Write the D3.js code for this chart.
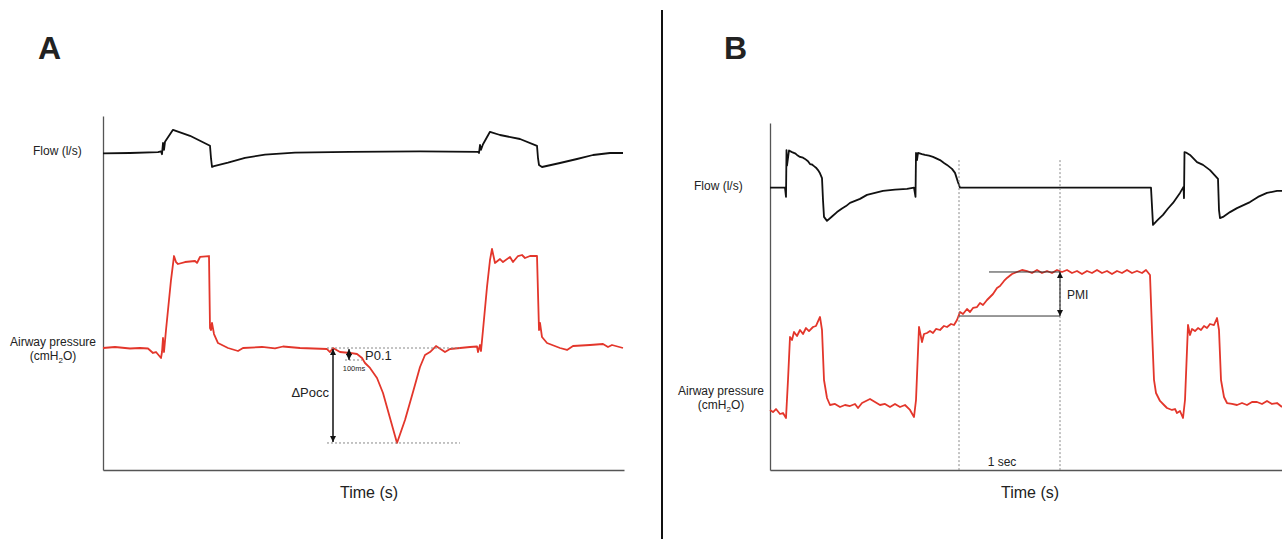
<!DOCTYPE html>
<html lang="en">
<head>
    <meta charset="UTF-8">
    <title>Occlusion manoeuvres</title>
    <style>
        body {
            margin: 0;
            padding: 0;
            background: #fff;
            font-family: "Liberation Sans", Arial, sans-serif;
        }
        svg text { fill: #222; }
        .trace { fill: none; stroke-width: 1.8; stroke-linejoin: round; }
        .axis path { stroke: #555; stroke-width: 1.3; }
        .guide { stroke: #888; stroke-width: 1; stroke-dasharray: 2,2; fill: none; }
    </style>
</head>
<body>
<svg id="chart" width="1282" height="539"></svg>
<script src="https://d3js.org/d3.v7.min.js"></script>
<script>
    // panel A: time (s), flow (l/s)
    const flowA = [
        [0, -0.01], [0.162, 0], [0.33, 0.02], [0.348, 0.04], [0.354, -0.03], [0.36, 0.25],
        [0.366, 0.08], [0.372, 0.28], [0.42, 0.58], [0.522, 0.43], [0.642, 0.18],
        [0.648, -0.13], [0.654, -0.35], [0.666, -0.33], [0.75, -0.24], [0.852, -0.12],
        [0.972, -0.04], [1.152, 0.01], [1.482, 0.03], [1.902, 0.04], [2.25, 0.03],
        [2.256, 0.0], [2.262, 0.2], [2.268, 0.08], [2.28, 0.22], [2.322, 0.53],
        [2.382, 0.45], [2.502, 0.35], [2.604, 0.18], [2.61, -0.13], [2.616, -0.3],
        [2.634, -0.35], [2.742, -0.25], [2.844, -0.15], [2.94, -0.05], [3.042, 0], [3.12, 0]
    ];

    // panel A: time (s), airway pressure (cmH2O)
    const pressureA = [
        [0, 5.0], [0.072, 5.17], [0.162, 4.92], [0.222, 5.0], [0.27, 4.92], [0.3, 4.17],
        [0.318, 4.33], [0.348, 3.33], [0.354, 4.33], [0.36, 6.67], [0.366, 4.33],
        [0.378, 8.0], [0.39, 11.33], [0.408, 16.33], [0.426, 20.33], [0.438, 19.33],
        [0.45, 19.0], [0.492, 19.33], [0.552, 19.5], [0.564, 19.17], [0.582, 20.17],
        [0.636, 20.33], [0.642, 8.33], [0.648, 8.0], [0.654, 9.17], [0.666, 7.33],
        [0.69, 5.83], [0.75, 5.0], [0.81, 4.5], [0.84, 5.0], [0.954, 5.17], [1.032, 4.92],
        [1.08, 5.25], [1.182, 5.0], [1.344, 4.83], [1.362, 4.33], [1.38, 5.0], [1.422, 4.33],
        [1.482, 4.17], [1.524, 4.0], [1.554, 3.33], [1.572, 2.5], [1.602, 1.67], [1.644, 0.0],
        [1.68, -2.5], [1.722, -6.67], [1.764, -10.83], [1.812, -7.0], [1.86, -2.33],
        [1.902, 1.83], [1.932, 3.83], [1.962, 4.33], [1.998, 5.33], [2.034, 4.67],
        [2.052, 4.33], [2.082, 4.83], [2.142, 5.0], [2.202, 5.17], [2.244, 5.25],
        [2.25, 4.33], [2.262, 5.5], [2.268, 4.5], [2.28, 8.0], [2.304, 15.17], [2.322, 19.67],
        [2.334, 21.5], [2.352, 19.17], [2.382, 19.83], [2.4, 19.33], [2.442, 20.17],
        [2.46, 19.33], [2.49, 20.33], [2.514, 20.5], [2.532, 20.0], [2.562, 20.33],
        [2.604, 20.33], [2.616, 8.0], [2.622, 9.17], [2.634, 6.83], [2.664, 5.83],
        [2.742, 5.0], [2.784, 4.67], [2.82, 5.33], [2.922, 5.5], [3.0, 5.67], [3.03, 5.17],
        [3.054, 5.5], [3.12, 5.0]
    ];

    // panel B: time (s), flow (l/s)
    const flowB = [
        [0, 0], [0.15, 0], [0.16, -0.23], [0.165, 0.94], [0.17, 0.55], [0.19, 0.93],
        [0.22, 0.89], [0.25, 0.86], [0.27, 0.82], [0.30, 0.77], [0.33, 0.75], [0.35, 0.72],
        [0.38, 0.66], [0.40, 0.59], [0.42, 0.58], [0.44, 0.54], [0.46, 0.50], [0.48, 0.44],
        [0.50, 0.36], [0.52, 0.24], [0.53, -0.31], [0.54, -0.73], [0.57, -0.83],
        [0.62, -0.72], [0.67, -0.61], [0.72, -0.52], [0.76, -0.46], [0.80, -0.38],
        [0.85, -0.33], [0.90, -0.28], [0.97, -0.18], [1.05, -0.13], [1.13, -0.08],
        [1.25, -0.05], [1.37, -0.03], [1.44, 0.0], [1.455, -0.23], [1.46, 0.87],
        [1.47, 0.69], [1.48, 0.87], [1.52, 0.84], [1.55, 0.82], [1.59, 0.80], [1.63, 0.77],
        [1.70, 0.69], [1.74, 0.62], [1.77, 0.57], [1.82, 0.47], [1.85, 0.37], [1.88, 0.14],
        [1.90, 0.0], [3.81, 0.0], [3.83, -0.93], [3.88, -0.80], [3.93, -0.68],
        [3.98, -0.52], [4.03, -0.38], [4.10, -0.13], [4.135, 0.02], [4.14, -0.26],
        [4.145, 0.89], [4.16, 0.88], [4.20, 0.82], [4.27, 0.64], [4.33, 0.57], [4.40, 0.44],
        [4.48, 0.22], [4.49, -0.56], [4.50, -0.76], [4.53, -0.73], [4.60, -0.61],
        [4.67, -0.51], [4.80, -0.36], [4.88, -0.23], [4.97, -0.13], [5.07, -0.08], [5.12, -0.08]
    ];

    // panel B: time (s), airway pressure (cmH2O)
    const pressureB = [
        [0, 4.67], [0.03, 4.33], [0.06, 4.83], [0.10, 4.0], [0.13, 4.17], [0.16, 3.33],
        [0.18, 9.67], [0.20, 16.83], [0.22, 16.33], [0.24, 17.67], [0.27, 17.0], [0.30, 18.0],
        [0.33, 17.33], [0.36, 18.33], [0.39, 17.83], [0.43, 18.5], [0.46, 18.67], [0.50, 20.17],
        [0.52, 18.0], [0.54, 9.67], [0.57, 6.67], [0.60, 5.5], [0.65, 5.67], [0.70, 5.17],
        [0.75, 5.5], [0.80, 5.33], [0.85, 5.67], [0.88, 5.0], [0.92, 5.83], [1.00, 6.5],
        [1.05, 6.0], [1.10, 5.5], [1.15, 5.67], [1.20, 5.17], [1.25, 5.67], [1.30, 5.17],
        [1.35, 5.5], [1.40, 4.67], [1.44, 3.5], [1.46, 6.33], [1.49, 18.5], [1.52, 16.0],
        [1.54, 17.33], [1.57, 17.5], [1.60, 17.83], [1.63, 17.5], [1.66, 18.17], [1.70, 18.0],
        [1.74, 18.67], [1.77, 18.5], [1.81, 19.0], [1.84, 18.83], [1.87, 19.67], [1.90, 21.0],
        [1.93, 20.67], [1.97, 21.5], [2.00, 21.0], [2.03, 21.67], [2.07, 21.83], [2.10, 22.5],
        [2.13, 22.17], [2.17, 23.0], [2.20, 23.5], [2.23, 24.0], [2.27, 25.0], [2.30, 25.33],
        [2.34, 26.17], [2.37, 26.67], [2.42, 27.33], [2.47, 27.67], [2.52, 28.0], [2.57, 27.83],
        [2.62, 27.5], [2.67, 28.0], [2.72, 27.5], [2.77, 27.83], [2.82, 27.5], [2.87, 28.0],
        [2.92, 27.67], [2.97, 28.0], [3.02, 27.5], [3.07, 27.83], [3.12, 27.33], [3.17, 27.83],
        [3.22, 27.5], [3.27, 28.0], [3.32, 27.5], [3.37, 27.83], [3.42, 27.33], [3.47, 27.83],
        [3.52, 27.5], [3.57, 28.0], [3.62, 27.5], [3.67, 27.83], [3.72, 27.5], [3.76, 28.0],
        [3.80, 27.17], [3.82, 18.0], [3.84, 9.67], [3.86, 7.5], [3.90, 6.17], [3.94, 5.5],
        [3.97, 5.0], [4.02, 4.67], [4.05, 4.83], [4.07, 4.17], [4.10, 4.5], [4.13, 3.33],
        [4.15, 6.33], [4.18, 18.83], [4.20, 17.17], [4.22, 18.17], [4.25, 17.83], [4.28, 18.33],
        [4.31, 18.0], [4.34, 18.67], [4.37, 18.33], [4.40, 19.0], [4.44, 18.83], [4.47, 20.0],
        [4.49, 18.0], [4.51, 9.67], [4.54, 6.83], [4.57, 5.83], [4.62, 5.67], [4.67, 5.5],
        [4.72, 5.83], [4.77, 5.5], [4.82, 6.0], [4.87, 6.0], [4.92, 5.67], [4.97, 6.17],
        [5.02, 5.67], [5.07, 5.83], [5.12, 5.17]
    ];

    // annotation values
    const occA = { start: 1.344, end: 2.142, base: 5.0, nadir: -10.83, arrowT: 1.38 };
    const p01A = { t: 1.476, t0: 1.452, t1: 1.554, value: 3.0 };
    const cursorsB = [1.89, 2.90];
    const pmiB = { start: 1.89, topStart: 2.19, end: 2.90, low: 20.33, high: 27.67 };

    const svg = d3.select("#chart");

    const defs = svg.append("defs");
    [["arrEnd", "M0,0 L6,3 L0,6 Z"], ["arrStart", "M6,0 L0,3 L6,6 Z"]].forEach(([id, d]) => {
        defs.append("marker")
            .attr("id", id)
            .attr("viewBox", "0 0 6 6")
            .attr("refX", id === "arrEnd" ? 6 : 0)
            .attr("refY", 3)
            .attr("markerWidth", 6)
            .attr("markerHeight", 6)
            .attr("markerUnits", "userSpaceOnUse")
            .attr("orient", "auto")
            .append("path")
            .attr("d", d)
            .attr("fill", "#111");
    });

    // divider between the two panels
    svg.append("line")
        .attr("x1", 662).attr("x2", 662)
        .attr("y1", 10).attr("y2", 539)
        .attr("stroke", "#111").attr("stroke-width", 2);

    function drawPanel(opt) {
        const g = svg.append("g");
        const x = d3.scaleLinear().domain(opt.tDomain).range([opt.left, opt.right]);
        const yFrame = d3.scaleLinear().range([opt.bottom, opt.top]);
        const yFlow = d3.scaleLinear().domain([0, 0.5]).range([opt.flowZero, opt.flowZero - 20]);
        const yPres = d3.scaleLinear().domain([5, 20]).range([opt.pressBase, opt.pressBase - 90]);

        g.append("g")
            .attr("class", "axis")
            .attr("transform", `translate(${opt.left},0)`)
            .call(d3.axisLeft(yFrame).ticks(0).tickSizeOuter(0));
        g.append("g")
            .attr("class", "axis")
            .attr("transform", `translate(0,${opt.bottom})`)
            .call(d3.axisBottom(x).ticks(0).tickSizeOuter(0));

        g.append("path")
            .datum(opt.flow)
            .attr("class", "trace")
            .attr("stroke", "#111")
            .attr("d", d3.line().x(d => x(d[0])).y(d => yFlow(d[1])));
        g.append("path")
            .datum(opt.pressure)
            .attr("class", "trace")
            .attr("stroke", "#e3362b")
            .attr("d", d3.line().x(d => x(d[0])).y(d => yPres(d[1])));

        // labels
        g.append("text")
            .attr("x", opt.letterX).attr("y", 59)
            .attr("font-size", 32).attr("font-weight", "bold")
            .text(opt.letter);
        g.append("text")
            .attr("x", opt.flowLabelX).attr("y", opt.flowZero + 2)
            .attr("font-size", 12)
            .text("Flow (l/s)");
        const pl = g.append("text")
            .attr("text-anchor", "middle")
            .attr("font-size", 12);
        pl.append("tspan").attr("x", opt.pressLabelX).attr("y", opt.pressLabelY).text("Airway pressure");
        const sub = pl.append("tspan").attr("x", opt.pressLabelX).attr("y", opt.pressLabelY + 14);
        sub.append("tspan").text("(cmH");
        sub.append("tspan").attr("font-size", 8).attr("dy", 3).text("2");
        sub.append("tspan").attr("dy", -3).text("O)");
        g.append("text")
            .attr("x", (opt.left + opt.timeRight) / 2).attr("y", 498)
            .attr("text-anchor", "middle")
            .attr("font-size", 16)
            .text("Time (s)");

        return { g, x, yFlow, yPres };
    }

    // ---- panel A ----
    const A = drawPanel({
        letter: "A", letterX: 38, tDomain: [0, 3.126],
        left: 103, right: 624, top: 116, bottom: 470, timeRight: 635,
        flowZero: 153, pressBase: 348, flow: flowA, pressure: pressureA,
        flowLabelX: 33, pressLabelX: 53, pressLabelY: 346
    });

    A.g.selectAll(".occ-guide")
        .data([occA.base, occA.nadir])
        .enter().append("line")
        .attr("class", "guide")
        .attr("x1", A.x(occA.start)).attr("x2", A.x(occA.end))
        .attr("y1", d => A.yPres(d)).attr("y2", d => A.yPres(d));
    A.g.append("line")
        .attr("x1", A.x(occA.arrowT)).attr("x2", A.x(occA.arrowT))
        .attr("y1", A.yPres(occA.base) + 1).attr("y2", A.yPres(occA.nadir) - 1)
        .attr("stroke", "#111").attr("stroke-width", 1.5)
        .attr("marker-start", "url(#arrStart)").attr("marker-end", "url(#arrEnd)");
    A.g.append("text")
        .attr("x", A.x(occA.arrowT) - 4).attr("y", A.yPres(-2.33) + 5)
        .attr("text-anchor", "end").attr("font-size", 13)
        .text("\u0394Pocc");

    A.g.append("line")
        .attr("class", "guide")
        .attr("x1", A.x(p01A.t0)).attr("x2", A.x(p01A.t1))
        .attr("y1", A.yPres(p01A.value)).attr("y2", A.yPres(p01A.value));
    A.g.append("line")
        .attr("x1", A.x(p01A.t)).attr("x2", A.x(p01A.t))
        .attr("y1", A.yPres(occA.base) + 1).attr("y2", A.yPres(p01A.value))
        .attr("stroke", "#111").attr("stroke-width", 1.2)
        .attr("marker-start", "url(#arrStart)").attr("marker-end", "url(#arrEnd)");
    A.g.append("text")
        .attr("x", A.x(1.572)).attr("y", A.yPres(3.67) + 4.5)
        .attr("font-size", 13)
        .text("P0.1");
    A.g.append("text")
        .attr("x", A.x(1.506)).attr("y", A.yPres(1.67) + 3)
        .attr("text-anchor", "middle").attr("font-size", 7.5)
        .text("100ms");

    // ---- panel B ----
    const B = drawPanel({
        letter: "B", letterX: 724, tDomain: [0, 5.12],
        left: 770, right: 1282, top: 123, bottom: 470, timeRight: 1290,
        flowZero: 187.7, pressBase: 408, flow: flowB, pressure: pressureB,
        flowLabelX: 694, pressLabelX: 721, pressLabelY: 395
    });

    B.g.selectAll(".cursor")
        .data(cursorsB)
        .enter().append("line")
        .attr("class", "guide")
        .attr("stroke-dasharray", "2,1.5")
        .attr("x1", d => B.x(d)).attr("x2", d => B.x(d))
        .attr("y1", B.yFlow(0.69)).attr("y2", 470);
    B.g.append("text")
        .attr("x", B.x(2.32)).attr("y", 466)
        .attr("text-anchor", "middle").attr("font-size", 12)
        .text("1 sec");

    B.g.append("line")
        .attr("x1", B.x(pmiB.topStart)).attr("x2", B.x(pmiB.end))
        .attr("y1", B.yPres(pmiB.high)).attr("y2", B.yPres(pmiB.high))
        .attr("stroke", "#333").attr("stroke-width", 1);
    B.g.append("line")
        .attr("x1", B.x(pmiB.start)).attr("x2", B.x(pmiB.end))
        .attr("y1", B.yPres(pmiB.low)).attr("y2", B.yPres(pmiB.low))
        .attr("stroke", "#333").attr("stroke-width", 1);
    B.g.append("line")
        .attr("x1", B.x(pmiB.end)).attr("x2", B.x(pmiB.end))
        .attr("y1", B.yPres(pmiB.high)).attr("y2", B.yPres(pmiB.low))
        .attr("stroke", "#111").attr("stroke-width", 1)
        .attr("marker-start", "url(#arrStart)").attr("marker-end", "url(#arrEnd)");
    B.g.append("text")
        .attr("x", B.x(2.97)).attr("y", B.yPres(24) + 4.5)
        .attr("font-size", 12)
        .text("PMI");
</script>
</body>
</html>
